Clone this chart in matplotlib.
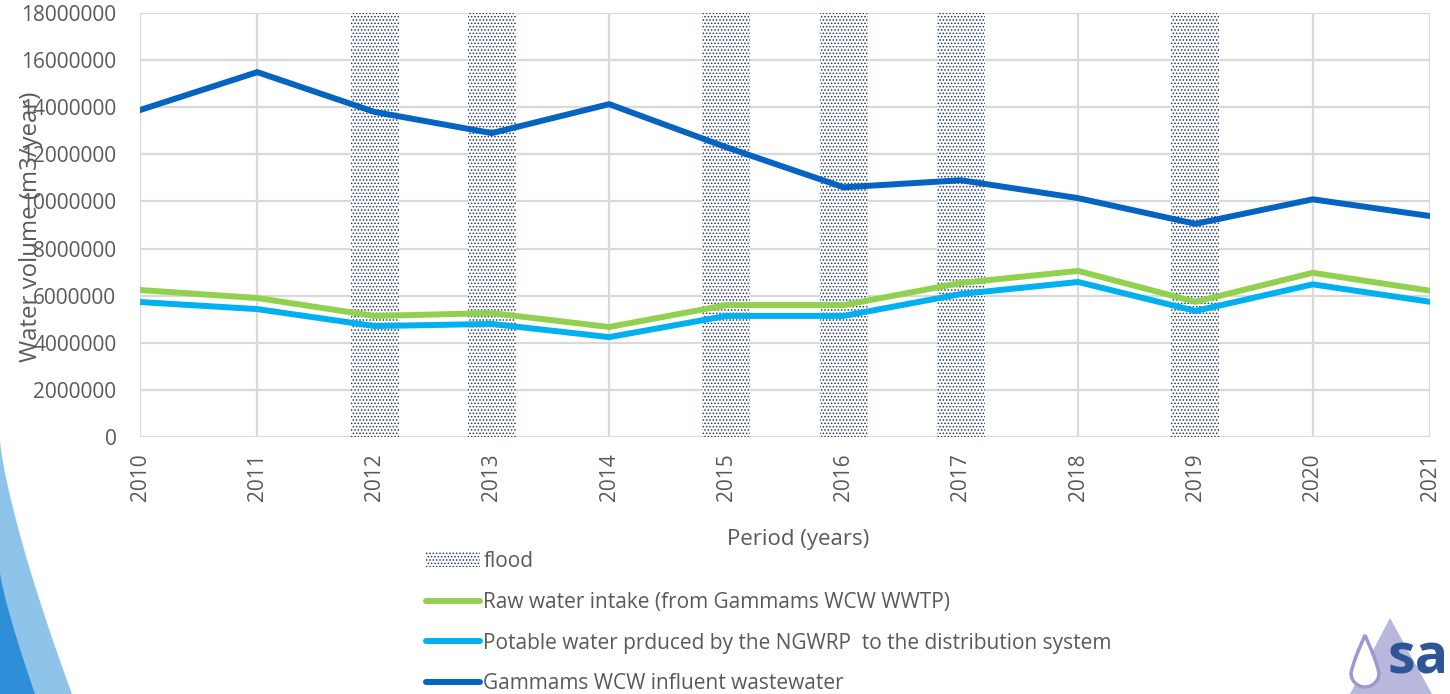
import matplotlib
matplotlib.use("Agg")
import matplotlib.pyplot as plt
import numpy as np
from matplotlib.patches import Patch, Polygon
from matplotlib.lines import Line2D
from matplotlib.ticker import FuncFormatter

plt.rcParams['font.family'] = ['Open Sans', 'DejaVu Sans']
plt.rcParams['hatch.linewidth'] = 0.7

years = [2010, 2011, 2012, 2013, 2014, 2015, 2016, 2017, 2018, 2019, 2020, 2021]
flood_years = [2012, 2013, 2015, 2016, 2017, 2019]
raw_intake = [6240000, 5900000, 5140000, 5260000, 4670000, 5600000, 5600000,
              6540000, 7050000, 5740000, 6970000, 6210000]
potable = [5730000, 5430000, 4710000, 4800000, 4240000, 5140000, 5140000,
           6070000, 6580000, 5350000, 6480000, 5740000]
influent = [13880000, 15490000, 13800000, 12900000, 14130000, 12300000, 10600000,
            10900000, 10140000, 9050000, 10090000, 9380000]

labels = ["flood",
          "Raw water intake (from Gammams WCW WWTP)",
          "Potable water prduced by the NGWRP  to the distribution system",
          "Gammams WCW influent wastewater"]
c_raw = '#92D050'
c_pot = '#00B0F0'
c_inf = '#0563C1'
c_flood = '#1F3864'
txt = '#595959'
grid_c = '#D9D9D9'
flood_hatch = '.....'

W, H = 1450, 694
fig = plt.figure(figsize=(W / 100, H / 100), dpi=100)
ax = fig.add_axes([140 / W, 1 - 437 / H, 1290 / W, 424 / H])

ymax = 18000000
ax.bar(flood_years, [ymax] * len(flood_years), width=0.41, facecolor='white',
       edgecolor=c_flood, hatch=flood_hatch, zorder=1, linewidth=0)
ax.plot(years, raw_intake, color=c_raw, lw=4.3, solid_joinstyle='round',
        solid_capstyle='round', zorder=3)
ax.plot(years, potable, color=c_pot, lw=4.3, solid_joinstyle='round',
        solid_capstyle='round', zorder=3)
ax.plot(years, influent, color=c_inf, lw=4.3, solid_joinstyle='round',
        solid_capstyle='round', zorder=3)

ax.set_xlim(2010, 2021)
ax.set_ylim(0, ymax)
ax.set_xticks(years)
ax.set_xticklabels([str(y) for y in years], rotation=90)
ax.set_yticks(np.arange(0, ymax + 1, 2000000))
ax.yaxis.set_major_formatter(FuncFormatter(lambda v, p: '%d' % v))
ax.grid(True, color=grid_c, lw=1.6, zorder=0)
ax.set_axisbelow(True)
for s in ax.spines.values():
    s.set_visible(False)
ax.tick_params(axis='both', length=0, labelsize=15, labelcolor=txt)
ax.tick_params(axis='y', pad=17)
ax.tick_params(axis='x', pad=12)

ax.set_ylabel("Water volume (m3/year)", fontsize=17.3, color=txt)
ax.yaxis.set_label_coords(-0.075, 0.496)
ax.set_xlabel("Period (years)", fontsize=16, color=txt)
ax.xaxis.set_label_coords(0.51, -0.217)
ax.yaxis.label.set_zorder(5)

handles = [Patch(facecolor='white', edgecolor=c_flood, hatch=flood_hatch, lw=0),
           Line2D([], [], color=c_raw, lw=4.3, solid_capstyle='round'),
           Line2D([], [], color=c_pot, lw=4.3, solid_capstyle='round'),
           Line2D([], [], color=c_inf, lw=4.3, solid_capstyle='round')]
leg = fig.legend(handles, labels, loc='upper left',
                 bbox_to_anchor=(426 / W, 1 - 551 / H), frameon=False,
                 fontsize=15, handlelength=2.6, handletextpad=0.15,
                 labelspacing=0.95, borderaxespad=0, borderpad=0)
for t in leg.get_texts():
    t.set_color(txt)

# decorative swoosh bottom-left
t = np.linspace(0, 1, 50)
outer_x = 72 * t ** 1.3
outer_y = 440 + (694 - 440) * t
light = np.column_stack([np.concatenate([outer_x, [0]]),
                         np.concatenate([outer_y, [694]])])
fig.patches.append(Polygon([(x / W, 1 - y / H) for x, y in light],
                           closed=True, transform=fig.transFigure,
                           facecolor='#8EC4EA', edgecolor='none'))
inner_x = 35 * t ** 1.2
inner_y = 573 + (694 - 573) * t
dark = np.column_stack([np.concatenate([inner_x, [0]]),
                        np.concatenate([inner_y, [694]])])
fig.patches.append(Polygon([(x / W, 1 - y / H) for x, y in dark],
                           closed=True, transform=fig.transFigure,
                           facecolor='#2E8FD8', edgecolor='none'))

# logo bottom-right
tri = [(1390, 618), (1350, 694), (1432, 694)]
fig.patches.append(Polygon([(x / W, 1 - y / H) for x, y in tri], closed=True,
                           transform=fig.transFigure, facecolor='#B8B8DC',
                           edgecolor='none'))
drop_pts = []
for a in np.linspace(-np.pi / 2, 3 * np.pi / 2, 80):
    if np.sin(a) > 0:
        drop_pts.append((1365 + 14 * np.cos(a), 673 + 14 * np.sin(a)))
    else:
        f = -np.sin(a)
        drop_pts.append((1365 + 14 * np.cos(a) * (1 - f) ** 0.6, 673 - 38 * f))
fig.patches.append(Polygon([(x / W, 1 - y / H) for x, y in drop_pts], closed=True,
                           transform=fig.transFigure, facecolor='white',
                           edgecolor='#9A9AD0', lw=2.5))
fig.text(1387 / W, 1 - 674 / H, "sa", fontsize=40, fontweight='bold',
         color='#2E5597', ha='left', va='baseline')

fig.savefig("out.png", dpi=100)
